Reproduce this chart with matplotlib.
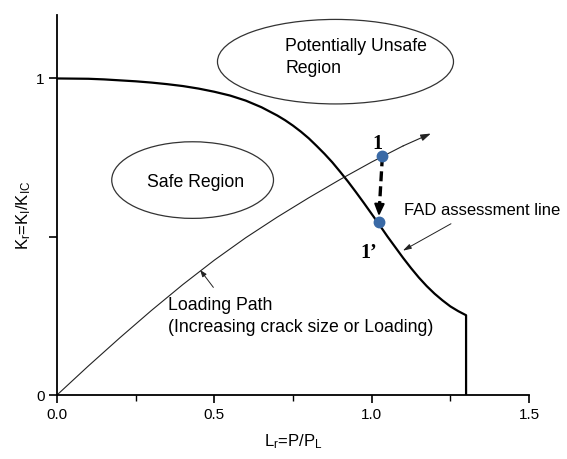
import matplotlib
matplotlib.use('Agg')
import matplotlib.pyplot as plt
from matplotlib.patches import Ellipse

plt.rcParams['font.family'] = ['Liberation Sans', 'DejaVu Sans']
plt.rcParams['mathtext.default'] = 'regular'

# FAD assessment line
fad_lr = [0.0, 0.1, 0.15, 0.2, 0.25, 0.3, 0.35, 0.4, 0.45, 0.5, 0.55, 0.6, 0.65,
          0.7, 0.725, 0.75, 0.775, 0.8, 0.825, 0.85, 0.875, 0.9, 0.925, 0.95,
          0.975, 1.0, 1.025, 1.05, 1.075, 1.1, 1.125, 1.15, 1.175, 1.2, 1.225,
          1.25, 1.275, 1.3, 1.3]
fad_kr = [1.0, 0.999, 0.997, 0.994, 0.991, 0.987, 0.982, 0.976, 0.968, 0.958,
          0.946, 0.930, 0.909, 0.883, 0.868, 0.851, 0.832, 0.811, 0.787, 0.762,
          0.735, 0.705, 0.674, 0.641, 0.607, 0.572, 0.537, 0.501, 0.467, 0.433,
          0.401, 0.371, 0.344, 0.320, 0.299, 0.280, 0.265, 0.252, 0.0]

# loading path
path_lr = [0.0, 0.1, 0.2, 0.3, 0.4, 0.5, 0.6, 0.7, 0.8, 0.9, 1.0, 1.1]
path_kr = [0.0, 0.092, 0.181, 0.267, 0.349, 0.426, 0.497, 0.562, 0.623, 0.681,
           0.736, 0.787]
path_tip = (1.188, 0.826)

pt1 = (1.034, 0.754)
pt1p = (1.022, 0.547)

x_ticks = [0.0, 0.5, 1.0, 1.5]
x_labels = ['0.0', '0.5', '1.0', '1.5']
x_minor = [0.25, 0.75, 1.25]
y_ticks = [0, 0.5, 1]
y_labels = ['0', '', '1']


def main():
    fig = plt.figure(figsize=(5.67, 4.59), dpi=100)
    ax = fig.add_axes([0.1005, 0.1394, 0.8325, 0.8276])

    ax.plot(fad_lr, fad_kr, c='black', lw=1.6, solid_joinstyle='round')
    ax.plot(path_lr, path_kr, c='#222222', lw=0.8, solid_joinstyle='round')
    ax.annotate('', xy=path_tip, xytext=(path_lr[-1], path_kr[-1]),
                arrowprops=dict(arrowstyle='-|>,head_length=0.6,head_width=0.2',
                                color='#222222', lw=0.8, shrinkA=0, shrinkB=0))

    # dashed move 1 -> 1'
    ax.plot([pt1[0], 1.025], [pt1[1], 0.60], c='black', lw=2.4, ls=(0, (3, 1.5)))
    ax.annotate('', xy=(pt1p[0] + 0.001, pt1p[1] + 0.018), xytext=(1.025, 0.61),
                arrowprops=dict(arrowstyle='-|>,head_length=0.7,head_width=0.3',
                                color='black', lw=1.5, shrinkA=0, shrinkB=0))
    ax.plot([pt1[0], pt1p[0]], [pt1[1], pt1p[1]], 'o', ms=7.5, c='#3a6aa6',
            ls='none', zorder=5)
    ax.text(1.019, 0.792, '1', family='Liberation Serif', weight='bold',
            fontsize=14.5, ha='center', va='center')
    ax.text(0.99, 0.45, "1\u2019", family='Liberation Serif', weight='bold',
            fontsize=14.5, ha='center', va='center')

    ax.add_patch(Ellipse((0.885, 1.053), 0.75, 0.267, fill=False,
                         ec='#333333', lw=0.9))
    ax.text(0.726, 1.066, 'Potentially Unsafe\nRegion', fontsize=12.7,
            ha='left', va='center', linespacing=1.35)
    ax.add_patch(Ellipse((0.431, 0.679), 0.514, 0.242, fill=False,
                         ec='#333333', lw=0.9))
    ax.text(0.44, 0.67, 'Safe Region', fontsize=12.7, ha='center', va='center')

    ax.annotate('', xy=(0.455, 0.395), xytext=(0.497, 0.34),
                arrowprops=dict(arrowstyle='-|>,head_length=0.4,head_width=0.15',
                                color='#222222', lw=0.7, shrinkA=0, shrinkB=0))
    ax.text(0.354, 0.248, 'Loading Path\n(Increasing crack size or Loading)',
            fontsize=12.7, ha='left', va='center', linespacing=1.35)

    ax.text(1.102, 0.582, 'FAD assessment line', fontsize=12, ha='left',
            va='center')
    ax.annotate('', xy=(1.099, 0.456), xytext=(1.252, 0.541),
                arrowprops=dict(arrowstyle='-|>,head_length=0.5,head_width=0.15',
                                color='#222222', lw=0.7, shrinkA=0, shrinkB=0))

    ax.set_xlim(0, 1.5)
    ax.set_ylim(0, 1.2)
    ax.set_xticks(x_ticks)
    ax.set_xticklabels(x_labels)
    ax.set_xticks(x_minor, minor=True)
    ax.set_yticks(y_ticks)
    ax.set_yticklabels(y_labels)
    ax.spines['top'].set_visible(False)
    ax.spines['right'].set_visible(False)
    for s in ['left', 'bottom']:
        ax.spines[s].set_linewidth(1.3)
    ax.tick_params(which='major', length=6, width=1.2, labelsize=11, pad=3)
    ax.tick_params(which='minor', length=4, width=1.0)
    ax.set_xlabel('$L_r$=P/$P_L$', fontsize=12, labelpad=8)
    ax.set_ylabel('$K_r$=$K_I$/$K_{IC}$', fontsize=12)
    ax.yaxis.set_label_coords(-0.05, 0.474)

    fig.savefig('out.png', dpi=100)


if __name__ == "__main__":
    main()
